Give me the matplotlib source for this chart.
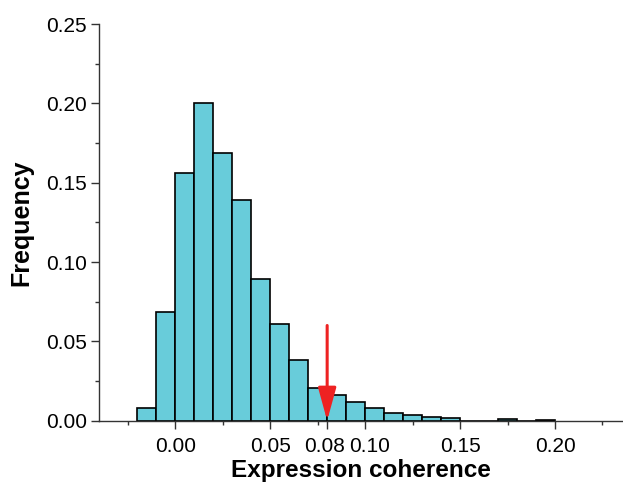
import matplotlib
matplotlib.use("Agg")
import matplotlib.pyplot as plt
import matplotlib.transforms as mtransforms
import numpy as np

plt.rcParams['font.family'] = ['Liberation Sans', 'DejaVu Sans']

# Histogram bins (left edges) and frequencies
bin_left = [-0.02, -0.01, 0.00, 0.01, 0.02, 0.03, 0.04, 0.05, 0.06, 0.07,
            0.08, 0.09, 0.10, 0.11, 0.12, 0.13, 0.14, 0.15, 0.16, 0.17,
            0.18, 0.19]
freq = [0.0078, 0.0683, 0.1563, 0.2004, 0.1685, 0.1390, 0.0893, 0.0609,
        0.0380, 0.0208, 0.0160, 0.0118, 0.0082, 0.0047, 0.0034, 0.0021,
        0.0015, 0.0, 0.0, 0.0010, 0.0, 0.0005]
bin_width = 0.01

xtick_vals = [0.00, 0.05, 0.08, 0.10, 0.15, 0.20]
xtick_labels = ["0.00", "0.05", "0.08", "0.10", "0.15", "0.20"]
xminor_vals = [-0.025, 0.025, 0.075, 0.125, 0.175, 0.225]
ytick_vals = [0.00, 0.05, 0.10, 0.15, 0.20, 0.25]
ytick_labels = ["0.00", "0.05", "0.10", "0.15", "0.20", "0.25"]
yminor_vals = [0.025, 0.075, 0.125, 0.175, 0.225]

arrow_x = 0.08
arrow_top = 0.060

fig = plt.figure(figsize=(6.23, 4.88), dpi=100)
ax = fig.add_axes([0.1594, 0.1379, 0.8406, 0.8129])

ax.bar(bin_left, freq, width=bin_width, align='edge', color='#68CCDA',
       edgecolor='black', linewidth=1.2)

ax.set_xlim(-0.04, 0.2358)
ax.set_ylim(0, 0.25)

ax.spines['top'].set_visible(False)
ax.spines['right'].set_visible(False)
for s in ['left', 'bottom']:
    ax.spines[s].set_linewidth(1.0)
    ax.spines[s].set_color('#333333')

ax.set_xticks(xtick_vals)
ax.set_xticklabels(xtick_labels)
ax.set_xticks(xminor_vals, minor=True)
ax.set_yticks(ytick_vals)
ax.set_yticklabels(ytick_labels)
ax.set_yticks(yminor_vals, minor=True)

ax.tick_params(axis='both', which='major', direction='out', length=6,
               width=1.0, labelsize=15, color='#333333', pad=3)
ax.tick_params(axis='x', which='major', pad=6)
ax.tick_params(axis='both', which='minor', direction='out', length=3,
               width=1.0, color='#333333')

# nudge the crowded labels apart (0.08 slightly left, 0.10 slightly right)
nudges = {"0.08": -0.025, "0.10": 0.045}
for lab in ax.get_xticklabels():
    dx = nudges.get(lab.get_text(), 0.0)
    if dx:
        lab.set_transform(lab.get_transform() +
                          mtransforms.ScaledTranslation(dx, 0, fig.dpi_scale_trans))

ax.set_xlabel("Expression coherence", fontsize=17.5, fontweight='bold',
              labelpad=2)
ax.set_ylabel("Frequency", fontsize=18, fontweight='bold', labelpad=9)

ax.annotate("", xy=(arrow_x, 0.0), xytext=(arrow_x, arrow_top),
            arrowprops=dict(arrowstyle='-|>,head_length=2.0,head_width=0.55',
                            mutation_scale=10, color='#EE2222', lw=2.2,
                            shrinkA=0, shrinkB=0),
            zorder=5)

fig.savefig("out.png", dpi=100)
